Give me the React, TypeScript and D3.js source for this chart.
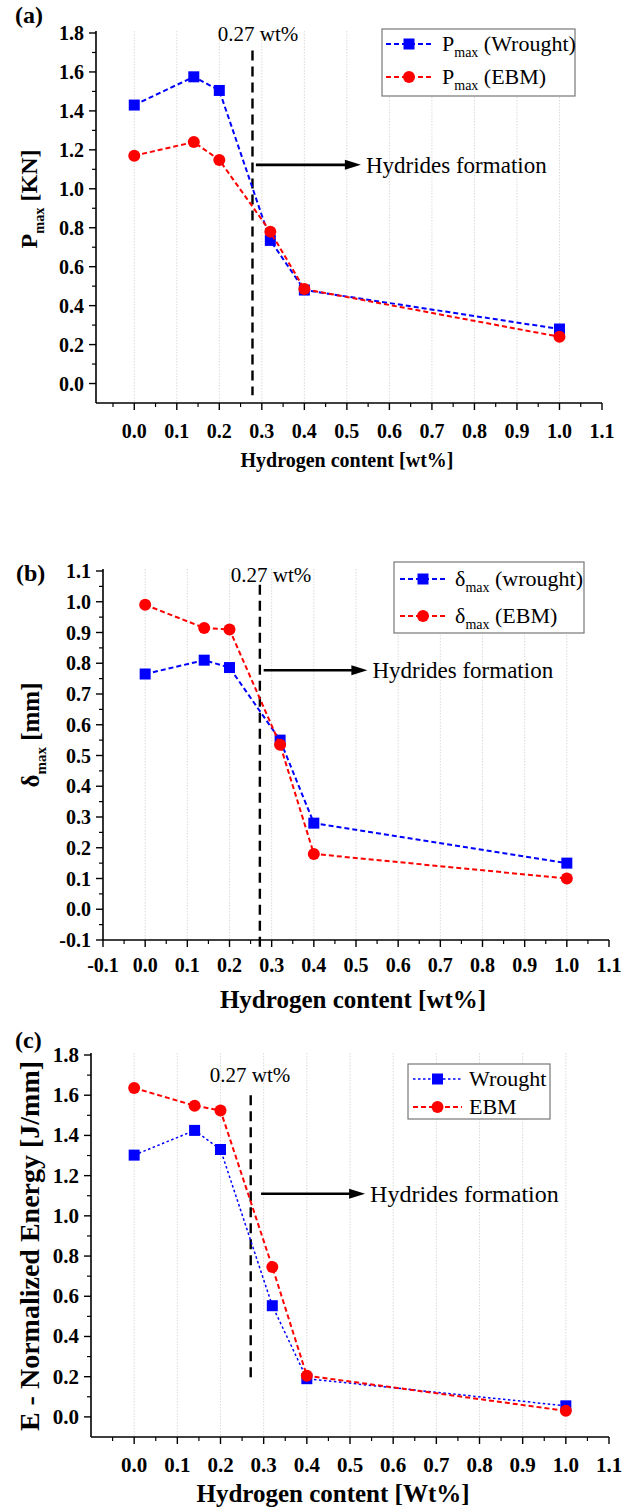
import React from "react";
import * as d3 from "d3";

// hydrogen content of the samples [wt%]
const hydrogen = [0, 0.14, 0.2, 0.32, 0.4, 1.0];

// (a) max load [KN]
const pmaxWrought = [1.43, 1.575, 1.505, 0.735, 0.48, 0.28];
const pmaxEbm = [1.17, 1.24, 1.148, 0.78, 0.485, 0.24];

// (b) max displacement [mm]
const deltaWrought = [0.765, 0.81, 0.786, 0.55, 0.28, 0.15];
const deltaEbm = [0.99, 0.915, 0.91, 0.535, 0.18, 0.1];

// (c) normalized energy [J/mm]
const energyWrought = [1.302, 1.425, 1.33, 0.553, 0.19, 0.055];
const energyEbm = [1.636, 1.548, 1.524, 0.746, 0.205, 0.03];

const xTickLabels = ["0.0", "0.1", "0.2", "0.3", "0.4", "0.5", "0.6", "0.7", "0.8", "0.9", "1.0", "1.1"];
const xTickLabelsB = ["-0.1", ...xTickLabels];
const yTickLabelsAC = ["0.0", "0.2", "0.4", "0.6", "0.8", "1.0", "1.2", "1.4", "1.6", "1.8"];
const yTickLabelsB = ["-0.1", "0.0", "0.1", "0.2", "0.3", "0.4", "0.5", "0.6", "0.7", "0.8", "0.9", "1.0", "1.1"];

const thresholdLabel = "0.27 wt%";
const hydrideLabel = "Hydrides formation";

const FONT = '"Liberation Serif", "Tinos", "FreeSerif", serif';
const BLUE = "#0000ff";
const RED = "#ff0000";

type Series = { name: string; sub?: string; suffix: string; values: number[]; color: string; marker: "square" | "circle"; dash: string; width: number };

type PanelCfg = {
  tag: string;
  tagPos: [number, number];
  left: number;
  right: number;
  top: number;
  bottom: number;
  xDomain: [number, number];
  yDomain: [number, number];
  xTicks: string[];
  yTicks: string[];
  xStep: number;
  yStep: number;
  xLabelDy: number;
  tickFont: number;
  xTitle: string;
  xTitleFont: number;
  xTitlePos: [number, number];
  yTitle: { main: string; sub?: string; rest: string };
  yTitleFont: number;
  yTitlePos: [number, number];
  vline: { x: number; y1: number; y2: number };
  vlabel: [number, number];
  arrow: { x1: number; x2: number; y: number };
  hydFont: number;
  legend: { x: number; y: number; w: number; h: number; rows: number[]; lx1: number; lx2: number; tx: number };
  series: Series[];
};

const panels: PanelCfg[] = [
  {
    tag: "(a)",
    tagPos: [15, 23],
    left: 96, right: 602, top: 33, bottom: 403,
    xDomain: [-0.09, 1.1], yDomain: [-0.1, 1.8],
    xTicks: xTickLabels, yTicks: yTickLabelsAC, xStep: 0.1, yStep: 0.2,
    xLabelDy: 35, tickFont: 20,
    xTitle: "Hydrogen content [wt%]", xTitleFont: 20, xTitlePos: [347, 467],
    yTitle: { main: "P", sub: "max", rest: " [KN]" }, yTitleFont: 24, yTitlePos: [37, 199],
    vline: { x: 0.278, y1: 1.71, y2: -0.06 },
    vlabel: [258, 41],
    arrow: { x1: 0.286, x2: 0.533, y: 1.123 },
    hydFont: 23,
    legend: { x: 382, y: 29, w: 193, h: 67, rows: [44, 77], lx1: 386, lx2: 432, tx: 442 },
    series: [
      { name: "P", sub: "max", suffix: " (Wrought)", values: pmaxWrought, color: BLUE, marker: "square", dash: "5,3", width: 2 },
      { name: "P", sub: "max", suffix: " (EBM)", values: pmaxEbm, color: RED, marker: "circle", dash: "5,3", width: 2 },
    ],
  },
  {
    tag: "(b)",
    tagPos: [16, 581],
    left: 103, right: 609, top: 571, bottom: 940,
    xDomain: [-0.1, 1.1], yDomain: [-0.1, 1.1],
    xTicks: xTickLabelsB, yTicks: yTickLabelsB, xStep: 0.1, yStep: 0.1,
    xLabelDy: 32, tickFont: 20,
    xTitle: "Hydrogen content [wt%]", xTitleFont: 25, xTitlePos: [353, 1008],
    yTitle: { main: "δ", sub: "max", rest: " [mm]" }, yTitleFont: 25, yTitlePos: [39, 735],
    vline: { x: 0.272, y1: 1.055, y2: -0.125 },
    vlabel: [271, 582],
    arrow: { x1: 0.281, x2: 0.527, y: 0.777 },
    hydFont: 23,
    legend: { x: 394, y: 562, w: 190, h: 71, rows: [579, 616], lx1: 400, lx2: 446, tx: 455 },
    series: [
      { name: "δ", sub: "max", suffix: " (wrought)", values: deltaWrought, color: BLUE, marker: "square", dash: "5,3", width: 2 },
      { name: "δ", sub: "max", suffix: " (EBM)", values: deltaEbm, color: RED, marker: "circle", dash: "5,3", width: 2 },
    ],
  },
  {
    tag: "(c)",
    tagPos: [15, 1048],
    left: 91, right: 609, top: 1055, bottom: 1437,
    xDomain: [-0.1, 1.1], yDomain: [-0.1, 1.8],
    xTicks: xTickLabels, yTicks: yTickLabelsAC, xStep: 0.1, yStep: 0.2,
    xLabelDy: 35, tickFont: 21,
    xTitle: "Hydrogen content [Wt%]", xTitleFont: 25, xTitlePos: [333, 1502],
    yTitle: { main: "E - Normalized Energy [J/mm]", rest: "" }, yTitleFont: 28, yTitlePos: [39, 1246],
    vline: { x: 0.27, y1: 1.6, y2: 0.18 },
    vlabel: [250, 1082],
    arrow: { x1: 0.294, x2: 0.535, y: 1.11 },
    hydFont: 24,
    legend: { x: 408, y: 1064, w: 142, h: 55, rows: [1079, 1107], lx1: 413, lx2: 462, tx: 469 },
    series: [
      { name: "Wrought", suffix: "", values: energyWrought, color: BLUE, marker: "square", dash: "2.5,2.5", width: 1.5 },
      { name: "EBM", suffix: "", values: energyEbm, color: RED, marker: "circle", dash: "5,3", width: 2 },
    ],
  },
];

const Marker = ({ type, x, y, color }: { type: string; x: number; y: number; color: string }) =>
  type === "square" ? (
    <rect x={x - 5.5} y={y - 5.5} width={11} height={11} fill={color} />
  ) : (
    <circle cx={x} cy={y} r={6} fill={color} />
  );

const Label = (props: React.SVGProps<SVGTextElement> & { size: number; bold?: boolean }) => {
  const { size, bold, children, ...rest } = props;
  return (
    <text {...rest} fontSize={size} fontWeight={bold ? "bold" : "normal"} style={{ fontFamily: FONT }}>
      {children}
    </text>
  );
};

const Panel = ({ p }: { p: PanelCfg }) => {
  const x = d3.scaleLinear().domain(p.xDomain).range([p.left, p.right]);
  // y domain top is the last tick, bottom is the axis
  const yTop = parseFloat(p.yTicks[p.yTicks.length - 1]);
  const y = d3.scaleLinear().domain([p.yDomain[0], yTop]).range([p.bottom, p.top]);

  const eps = 1e-6;
  const xMajor = p.xTicks.map((t) => parseFloat(t));
  const xMinor = xMajor.map((v) => v - p.xStep / 2).filter((v) => v > p.xDomain[0] + eps);
  const yMajor = p.yTicks.map((t) => parseFloat(t));
  const yMinor = yMajor.map((v) => v - p.yStep / 2).filter((v) => v > p.yDomain[0] + eps);
  const grid = xMajor.filter((v) => v > p.xDomain[0] + eps && v < p.xDomain[1] - eps);

  const line = d3
    .line<number>()
    .x((_, i) => x(hydrogen[i]))
    .y((d) => y(d));

  const ax = p.arrow;
  const leg = p.legend;

  return (
    <g>
      {grid.map((v) => (
        <line key={"g" + v} x1={x(v)} x2={x(v)} y1={p.top - 2} y2={p.bottom} stroke="#dadada" strokeWidth={1} strokeDasharray="1.5,1.5" />
      ))}

      {/* axes */}
      <line x1={p.left} x2={p.left} y1={p.top - 2} y2={p.bottom} stroke="#000" strokeWidth={1.6} />
      <line x1={p.left} x2={p.right} y1={p.bottom} y2={p.bottom} stroke="#000" strokeWidth={1.6} />
      {yMajor.map((v) => (
        <line key={"ym" + v} x1={p.left - 7} x2={p.left} y1={y(v)} y2={y(v)} stroke="#000" strokeWidth={1.4} />
      ))}
      {yMinor.map((v) => (
        <line key={"yn" + v} x1={p.left - 4} x2={p.left} y1={y(v)} y2={y(v)} stroke="#000" strokeWidth={1.2} />
      ))}
      {xMajor.map((v) => (
        <line key={"xm" + v} x1={x(v)} x2={x(v)} y1={p.bottom} y2={p.bottom + 7} stroke="#000" strokeWidth={1.4} />
      ))}
      {xMinor.map((v) => (
        <line key={"xn" + v} x1={x(v)} x2={x(v)} y1={p.bottom} y2={p.bottom + 4} stroke="#000" strokeWidth={1.2} />
      ))}
      {p.yTicks.map((t) => (
        <Label key={"yl" + t} x={p.left - 12} y={y(parseFloat(t)) + 7} textAnchor="end" size={p.tickFont} bold>
          {t}
        </Label>
      ))}
      {p.xTicks.map((t) => (
        <Label key={"xl" + t} x={x(parseFloat(t))} y={p.bottom + p.xLabelDy} textAnchor="middle" size={p.tickFont} bold>
          {t}
        </Label>
      ))}

      {/* titles */}
      <Label x={p.xTitlePos[0]} y={p.xTitlePos[1]} textAnchor="middle" size={p.xTitleFont} bold>
        {p.xTitle}
      </Label>
      <Label transform={`translate(${p.yTitlePos[0]},${p.yTitlePos[1]}) rotate(-90)`} textAnchor="middle" size={p.yTitleFont} bold>
        {p.yTitle.main}
        {p.yTitle.sub && (
          <tspan fontSize={p.yTitleFont * 0.6} dy={p.yTitleFont * 0.28}>
            {p.yTitle.sub}
          </tspan>
        )}
        {p.yTitle.rest && <tspan dy={p.yTitle.sub ? -p.yTitleFont * 0.28 : 0}>{p.yTitle.rest}</tspan>}
      </Label>
      <Label x={p.tagPos[0]} y={p.tagPos[1]} size={24} bold>
        {p.tag}
      </Label>

      {/* threshold */}
      <line x1={x(p.vline.x)} x2={x(p.vline.x)} y1={y(p.vline.y1)} y2={y(p.vline.y2)} stroke="#000" strokeWidth={2.4} strokeDasharray="10,6" />
      <Label x={p.vlabel[0]} y={p.vlabel[1]} textAnchor="middle" size={21}>
        {thresholdLabel}
      </Label>
      <line x1={x(ax.x1)} x2={x(ax.x2) - 12} y1={y(ax.y)} y2={y(ax.y)} stroke="#000" strokeWidth={2.6} />
      <path
        d={`M${x(ax.x2)},${y(ax.y)} L${x(ax.x2) - 16},${y(ax.y) - 5} L${x(ax.x2) - 16},${y(ax.y) + 5} Z`}
        fill="#000"
      />
      <Label x={x(ax.x2) + 5} y={y(ax.y) + 8} size={p.hydFont}>
        {hydrideLabel}
      </Label>

      {/* series */}
      {p.series.map((s) => (
        <g key={s.name + s.suffix}>
          <path d={line(s.values) || ""} fill="none" stroke={s.color} strokeWidth={s.width} strokeDasharray={s.dash} />
          {s.values.map((v, i) => (
            <Marker key={i} type={s.marker} x={x(hydrogen[i])} y={y(v)} color={s.color} />
          ))}
        </g>
      ))}

      {/* legend */}
      <rect x={leg.x} y={leg.y} width={leg.w} height={leg.h} fill="#fff" stroke="#777" strokeWidth={1.2} />
      {p.series.map((s, i) => {
        const ry = leg.rows[i];
        const mx = (leg.lx1 + leg.lx2) / 2;
        return (
          <g key={"l" + i}>
            <line x1={leg.lx1} x2={leg.lx2} y1={ry} y2={ry} stroke={s.color} strokeWidth={s.width} strokeDasharray={s.dash} />
            <Marker type={s.marker} x={mx} y={ry} color={s.color} />
            <Label x={leg.tx} y={ry + 7} size={22}>
              {s.name}
              {s.sub && (
                <tspan fontSize={14} dy={6}>
                  {s.sub}
                </tspan>
              )}
              {s.suffix && <tspan dy={s.sub ? -6 : 0}>{s.suffix}</tspan>}
            </Label>
          </g>
        );
      })}
    </g>
  );
};

export default function App() {
  return (
    <svg width={627} height={1510} style={{ position: "absolute", left: 0, top: 0, background: "#fff" }}>
      {panels.map((p) => (
        <Panel key={p.tag} p={p} />
      ))}
    </svg>
  );
}
